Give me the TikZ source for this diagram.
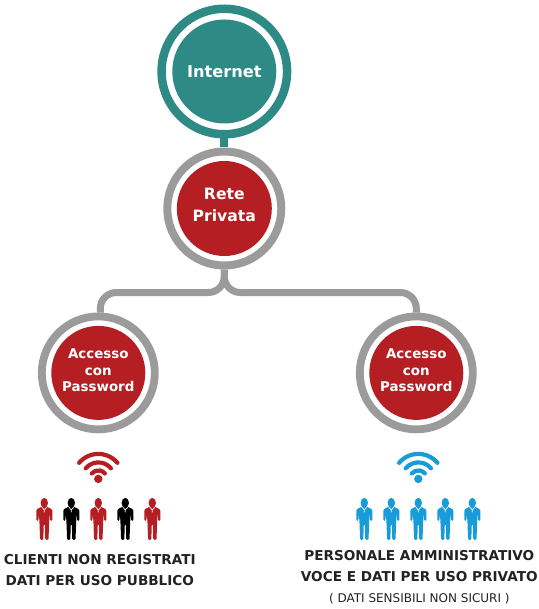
\documentclass[tikz,border=0pt]{standalone}
\usepackage{fontspec}
\setmainfont{DejaVu Sans}
\usetikzlibrary{positioning, calc}
\definecolor{cteal}{HTML}{2E8A84}
\definecolor{cgrey}{HTML}{9B9B9B}
\definecolor{cred}{HTML}{B51F24}
\definecolor{cblue}{HTML}{189CD9}
\definecolor{cink}{HTML}{222222}
\tikzset{
  ring/.style={circle, draw=#1, fill=white, line width=7.8pt, inner sep=0pt},
  hub/.style={circle, fill=#1, minimum size=94pt, inner sep=0pt},
  label/.style={text=white, align=center, inner sep=0pt, font=\bfseries\fontsize{13.4}{16.5}\selectfont},
  link/.style={draw=cgrey, line width=7pt, rounded corners=16pt},
  caption/.style={text=cink, align=center, inner sep=0pt, font=\bfseries\fontsize{13.6}{21}\selectfont},
  pics/person/.style={code={
    \fill[#1] (0,0) ellipse[x radius=3.7pt, y radius=5pt];
    \fill[#1, rounded corners=1.2pt] (-8,18) -- (-8,6.5) -- (-2.5,3.8) -- (2.5,3.8) -- (8,6.5) -- (8,18) -- (5.9,18) -- (5.6,10) -- (4.9,18) -- (4.2,37) -- (1,37) -- (0.5,21) -- (-0.5,21) -- (-1,37) -- (-4.2,37) -- (-4.9,18) -- (-5.6,10) -- (-5.9,18) -- cycle;
    \draw[white, line width=0.7pt] (-2.4,4.4) -- (0,7) -- (2.4,4.4) (0,7) -- (0,9.5);
  }},
  pics/wifi/.style={code={
    \fill[#1] (0,0) circle[radius=4.2pt];
    \foreach \r in {25,16.5,8.5}
      \draw[#1, line width=4.2pt, line cap=round] (140:\r pt) arc[start angle=140, end angle=40, radius=\r pt];
  }},
}
\begin{document}
\begin{tikzpicture}[x=1pt, y=-1pt]
  \useasboundingbox (0,0) rectangle (538,609);
  \node[ring=cteal, line width=8.5pt, minimum size=125.5pt] (internet) at (224.3,71.5) {};
  \node[ring=cgrey, line width=8pt, minimum size=114pt, below=9pt of internet] (rete) {};
  \node[ring=cgrey, minimum size=113pt, below=43pt of rete, xshift=-126pt] (left) {};
  \node[ring=cgrey, minimum size=113pt, below=43pt of rete, xshift=192pt] (right) {};
  \draw[cteal, line width=8pt] (internet.south) -- (rete.north);
  \coordinate[below=23pt of rete.south] (fork);
  \draw[link] (rete.south) -- (fork) -| ([xshift=2pt]left.north);
  \draw[link] (rete.south) -- (fork) -| (right.north);
  \node[hub=cteal, minimum size=104pt] (internethub) at (internet) {};
  \node[hub=cred, minimum size=95pt] (retehub) at (rete) {};
  \node[hub=cred] (lefthub) at (left) {};
  \node[hub=cred] (righthub) at (right) {};
  \node[label, font=\bfseries\fontsize{16.2}{18}\selectfont] (internettext) at (internet) {Internet};
  \node[label, font=\bfseries\fontsize{15.6}{22}\selectfont, yshift=3.5pt] (retetext) at (rete) {Rete\\Privata};
  \node[label, yshift=2.5pt] (lefttext) at (left) {Accesso\\con\\Password};
  \node[label, yshift=2.5pt] (righttext) at (right) {Accesso\\con\\Password};
  % clients and staff
  \pic at ([yshift=-106pt]left.center) {wifi=cred};
  \pic at ([xshift=2pt, yshift=-106pt]right.center) {wifi=cblue};
  \foreach \x/\c in {-54/cred, -27/black, 0/cred, 27/black, 54/cred}
    \pic at ([shift={(\x pt,-130pt)}]left.center) {person=\c};
  \foreach \x in {-54, -27, 0, 27, 54}
    \pic at ([shift={(\x pt+2pt,-130pt)}]right.center) {person=cblue};
  \node[caption, below=181pt of left.center, xshift=1.5pt] (leftnote) {CLIENTI NON REGISTRATI\\DATI PER USO PUBBLICO};
  \node[caption, below=177pt of right.center, xshift=3pt] (rightnote) {PERSONALE AMMINISTRATIVO\\VOCE E DATI PER USO PRIVATO\\{\mdseries\fontsize{12}{21}\selectfont ( DATI SENSIBILI NON SICURI )}};
\end{tikzpicture}
\end{document}
